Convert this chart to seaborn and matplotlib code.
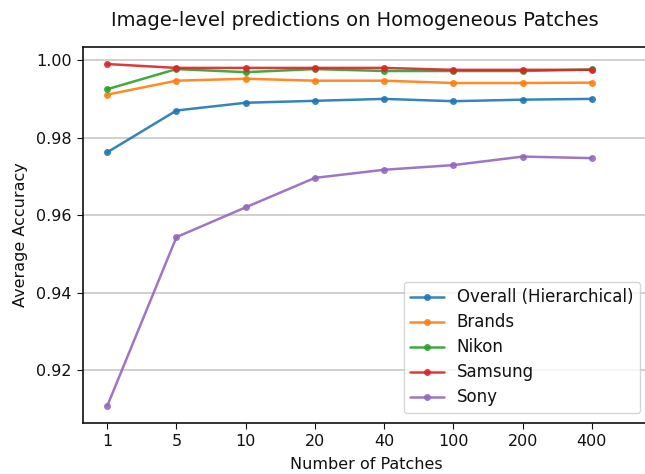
import matplotlib
matplotlib.use("Agg")
import matplotlib.pyplot as plt
import seaborn as sns
import pandas as pd

patches = ["1", "5", "10", "20", "40", "100", "200", "400"]
overall = [0.9762, 0.9870, 0.9890, 0.9895, 0.9900, 0.9894, 0.9898, 0.9900]
brands = [0.9911, 0.9947, 0.9952, 0.9947, 0.9947, 0.9941, 0.9941, 0.9942]
nikon = [0.9925, 0.9977, 0.9969, 0.9977, 0.9972, 0.9972, 0.9972, 0.9976]
samsung = [0.9990, 0.9980, 0.9980, 0.9980, 0.9980, 0.9975, 0.9975, 0.9975]
sony = [0.9107, 0.9543, 0.9620, 0.9696, 0.9717, 0.9729, 0.9751, 0.9747]
series_names = ["Overall (Hierarchical)", "Brands", "Nikon", "Samsung", "Sony"]
series_values = [overall, brands, nikon, samsung, sony]

rows = []
for name, vals in zip(series_names, series_values):
    for i, v in enumerate(vals):
        rows.append({"idx": i, "acc": v, "series": name})
df = pd.DataFrame(rows)

sns.set_style("ticks")
plt.rcParams["font.family"] = ["DejaVu Sans"]
plt.rcParams["text.color"] = "#111111"
plt.rcParams["axes.labelcolor"] = "#111111"
plt.rcParams["xtick.color"] = "#111111"
plt.rcParams["ytick.color"] = "#111111"

fig = plt.figure(figsize=(6.45, 4.74), dpi=100)
ax = fig.add_axes([83 / 645, 1 - 423 / 474, (650 - 83) / 645, (423 - 47) / 474])

palette = sns.color_palette("tab10", 5)
sns.lineplot(data=df, x="idx", y="acc", hue="series", hue_order=series_names,
             palette=palette, marker="o", markersize=5, markeredgewidth=0,
             linewidth=1.8, alpha=0.9, ax=ax)

ax.set_xticks(range(len(patches)))
ax.set_xticklabels(patches)
ax.set_xlim(-0.35, 7.84)
ax.set_yticks([0.92, 0.94, 0.96, 0.98, 1.00])
ax.set_yticklabels(["0.92", "0.94", "0.96", "0.98", "1.00"])
ax.set_ylim(0.9063, 1.0034)
ax.yaxis.grid(True, color="#c8c8c8", linewidth=1.2)
ax.xaxis.grid(False)
for s in ax.spines.values():
    s.set_color("#111111")
    s.set_linewidth(1.2)
ax.tick_params(labelsize=11.5, length=4.5, color="#111111")

ax.set_xlabel("Number of Patches", fontsize=11.5, labelpad=6)
ax.set_ylabel("Average Accuracy", fontsize=11.5, labelpad=6)
fig.text(355 / 645, 1 - 20 / 474, "Image-level predictions on Homogeneous Patches",
         ha="center", va="center", fontsize=14)

leg = ax.legend(loc="lower right", fontsize=12, frameon=True, title=None,
                bbox_to_anchor=((640 - 83) / 567, (423 - 413) / 376),
                borderaxespad=0, labelspacing=0.42)
leg.get_frame().set_edgecolor("#cccccc")

fig.savefig("out.png", dpi=100)
